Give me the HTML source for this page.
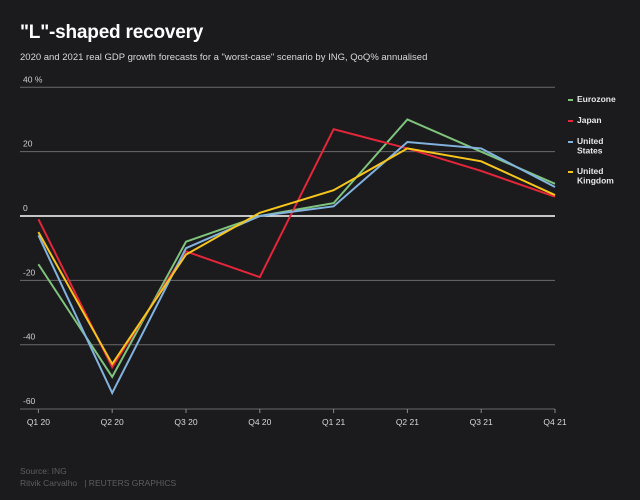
<!DOCTYPE html>
<html><head><meta charset="utf-8"><style>
html,body{margin:0;padding:0;background:#1b1a1d;}
body{width:640px;height:500px;overflow:hidden;font-family:"Liberation Sans",sans-serif;position:relative;}
#title{position:absolute;left:20px;top:22px;color:#fff;font-size:19px;font-weight:bold;margin:0;letter-spacing:-0.2px;}
#sub{position:absolute;left:20px;top:52px;color:#d8d8d8;font-size:9.5px;}
.foot{position:absolute;left:20px;color:#5e5e5e;font-size:8.5px;}
svg{position:absolute;left:0;top:0;}
</style></head><body>
<h1 id="title">"L"-shaped recovery</h1>
<div id="sub">2020 and 2021 real GDP growth forecasts for a "worst-case" scenario by ING, QoQ% annualised</div>
<div class="foot" style="top:466px">Source: ING</div>
<div class="foot" style="top:478px">Ritvik Carvalho &nbsp;&nbsp;| REUTERS GRAPHICS</div>
<svg id="chart" width="640" height="500"></svg>
<script>
const categories=["Q1 20","Q2 20","Q3 20","Q4 20","Q1 21","Q2 21","Q3 21","Q4 21"];
const yTicks=[-60,-40,-20,0,20,40];
const seriesNames=["Eurozone","Japan","United States","United Kingdom"];
const seriesColors=["#7fc47c","#e3263a","#82b3de","#f6c61c"];
const eurozone=[-15,-50,-8,0,4,30,20,10];
const japan=[-1,-47,-11,-19,27,21,14,6];
const unitedStates=[-6,-55,-10,0,3,23,21,9];
const unitedKingdom=[-5,-46,-12,1,8,21,17,6.5];
const allSeries=[eurozone,japan,unitedStates,unitedKingdom];

const svg=document.getElementById('chart');
const NS="http://www.w3.org/2000/svg";
const x=i=>38.4+i*(555-38.4)/(categories.length-1);
const y=v=>216-v*(216-87.3)/40;
function mk(t,a){const e=document.createElementNS(NS,t);for(const k in a)e.setAttribute(k,a[k]);svg.appendChild(e);return e;}

yTicks.forEach(v=>{
  const l=mk('line',{x1:20,x2:555,y1:y(v),y2:y(v),stroke:v===0?'#ffffff':'#6a6a6a','stroke-width':v===0?1.5:1});
  
  
  const t=mk('text',{x:23,y:y(v)-5,fill:'#cfcfcf','font-size':8.5,'font-family':'Liberation Sans'});
  t.textContent=v===40?'40 %':String(v);
  
  
});
categories.forEach((c,i)=>{
  const tk=mk('line',{x1:x(i),x2:x(i),y1:y(-60),y2:y(-60)+4,stroke:'#8a8a8a'});
  
  
  const t=mk('text',{x:x(i),y:425,fill:'#d8d8d8','font-size':8.5,'text-anchor':'middle','font-family':'Liberation Sans'});
  t.textContent=c;
  
  
});
allSeries.forEach((s,k)=>{
  const p=mk('polyline',{points:s.map((v,i)=>x(i)+','+y(v)).join(' '),fill:'none',stroke:seriesColors[k],'stroke-width':2,'stroke-linejoin':'miter'});
  
  
});
const legY=[102,123,144,174];
seriesNames.forEach((n,k)=>{
  const m=mk('rect',{x:568,y:legY[k]-3,width:5,height:2,fill:seriesColors[k]});
  
  
  const words=n.split(' ');
  words.forEach((w,j)=>{
    const t=mk('text',{x:577,y:legY[k]+j*9.5,fill:'#e8e8e8','font-size':8.5,'font-weight':'bold','font-family':'Liberation Sans'});
    t.textContent=w;
    
    
  });
});
</script>
</body></html>
